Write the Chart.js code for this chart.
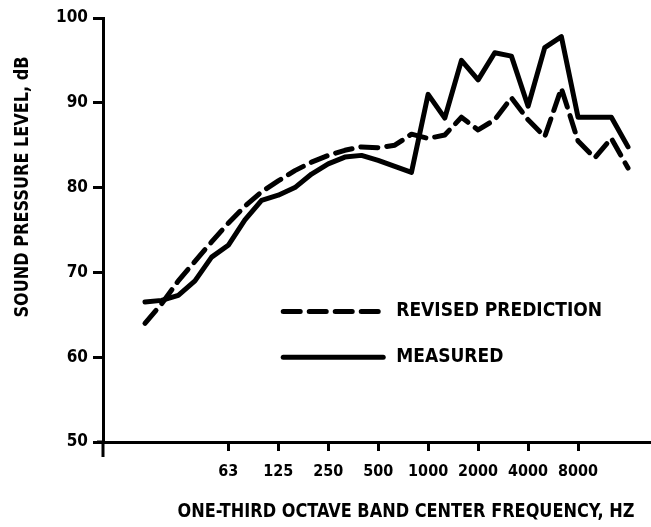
<!DOCTYPE html>
<html>
<head>
<meta charset="utf-8">
<script src="https://cdn.jsdelivr.net/npm/chart.js@4.4.1/dist/chart.umd.min.js"></script>
<style>
  html, body { margin: 0; padding: 0; background: #fff; }
</style>
</head>
<body>
<canvas id="splChart" width="651" height="527"></canvas>
<script>
// one-third octave band centre frequencies, Hz
const bands = ['20', '25', '31.5', '40', '50', '63', '80', '100', '125', '160', '200', '250', '315', '400', '500',
  '630', '800', '1000', '1250', '1600', '2000', '2500', '3150', '4000', '5000', '6300', '8000', '10000', '12500', '16000'];
// bands that get a tick and a label
const tickBands = ['63', '125', '250', '500', '1000', '2000', '4000', '8000'];

// sound pressure level, dB
const predicted = [64.0, 66.3, 69.0, 71.3, 73.6, 75.8, 77.8, 79.5, 80.8, 82.0, 83.0, 83.8, 84.4, 84.8, 84.7,
  85.0, 86.3, 85.8, 86.2, 88.3, 86.8, 88.0, 90.6, 88.0, 86.0, 91.7, 85.5, 83.5, 85.8, 82.3];
const measured = [66.5, 66.7, 67.3, 69.0, 71.8, 73.2, 76.2, 78.5, 79.1, 80.0, 81.6, 82.8, 83.6, 83.8, 83.2,
  82.5, 81.8, 91.0, 88.2, 95.0, 92.7, 95.9, 95.5, 89.6, 96.5, 97.8, 88.3, 88.3, 88.3, 84.8];

const seriesLabels = ['REVISED PREDICTION', 'MEASURED'];
const xTitle = 'ONE-THIRD OCTAVE BAND CENTER FREQUENCY, HZ';
const yTitle = 'SOUND PRESSURE LEVEL, dB';

const FONT = "'Liberation Sans Narrow', 'DejaVu Sans Condensed', 'Arial Narrow', sans-serif";
Chart.defaults.font.family = FONT;
Chart.defaults.font.weight = 'bold';
Chart.defaults.color = '#000';

const toPoints = arr => arr.map((v, i) => ({ x: i, y: v }));

// squeeze a label to a given width around its centre
function fitText(ctx, text, cx, cy, width, angle) {
  ctx.save();
  ctx.font = 'bold 20px ' + FONT;
  ctx.textAlign = 'center';
  ctx.textBaseline = 'middle';
  ctx.fillStyle = '#000';
  const sx = width / ctx.measureText(text).width;
  ctx.translate(cx, cy);
  ctx.rotate(angle);
  ctx.scale(sx, 1);
  ctx.fillText(text, 0, 0);
  ctx.restore();
}

// legend drawn inside the plot, anchored in data units; axis titles placed off-centre
const annotations = {
  id: 'annotations',
  afterDatasetsDraw(chart) {
    const { ctx, scales: { x, y } } = chart;
    const x0 = x.getPixelForValue(8.3);
    const rows = [65.4, 60.0];
    ctx.save();
    chart.data.datasets.forEach((ds, i) => {
      const yy = y.getPixelForValue(rows[i]);
      ctx.beginPath();
      ctx.strokeStyle = '#000';
      ctx.lineWidth = ds.borderWidth;
      ctx.lineCap = 'round';
      ctx.setLineDash(ds.borderDash || []);
      ctx.moveTo(x0, yy);
      ctx.lineTo(x0 + 100, yy);
      ctx.stroke();
      ctx.setLineDash([]);
      ctx.font = 'bold 19px ' + FONT;
      ctx.textBaseline = 'middle';
      ctx.fillStyle = '#000';
      ctx.fillText(ds.label, x0 + 113, yy);
    });
    ctx.restore();
  },
  afterDraw(chart) {
    const { ctx, chartArea: a } = chart;
    // short overhangs where the two axes meet
    ctx.save();
    ctx.strokeStyle = '#000';
    ctx.lineWidth = 3;
    ctx.beginPath();
    ctx.moveTo(a.left - 6, a.bottom);
    ctx.lineTo(a.left, a.bottom);
    ctx.moveTo(a.left, a.bottom);
    ctx.lineTo(a.left, a.bottom + 15);
    ctx.stroke();
    ctx.restore();

    fitText(ctx, xTitle, a.left + 303, chart.height - 15, 457, 0);
    fitText(ctx, yTitle, 23, a.top + 169, 261, -Math.PI / 2);
  }
};

new Chart(document.getElementById('splChart'), {
  type: 'line',
  data: {
    datasets: [
      {
        label: seriesLabels[0],
        data: toPoints(predicted),
        borderColor: '#000',
        borderWidth: 5,
        borderDash: [17, 9],
        borderCapStyle: 'round',
        borderJoinStyle: 'round',
        pointRadius: 0,
        tension: 0
      },
      {
        label: seriesLabels[1],
        data: toPoints(measured),
        borderColor: '#000',
        borderWidth: 5,
        borderCapStyle: 'round',
        borderJoinStyle: 'round',
        pointRadius: 0,
        tension: 0
      }
    ]
  },
  options: {
    responsive: false,
    animation: false,
    layout: { padding: { top: 18, right: 0, bottom: 0, left: 0 } },
    plugins: { legend: { display: false }, tooltip: { enabled: false } },
    scales: {
      x: {
        type: 'linear',
        min: -2.52,
        max: 30.38,
        afterBuildTicks: s => { s.ticks = tickBands.map(b => ({ value: bands.indexOf(b) })); },
        afterFit: s => { s.height = 85; },
        ticks: {
          autoSkip: false,
          maxRotation: 0,
          padding: 11,
          font: { size: 16, weight: 'bold' },
          callback: v => bands[v]
        },
        grid: { drawOnChartArea: false, tickLength: 9, tickWidth: 3, tickColor: '#000' },
        border: { color: '#000', width: 3 }
      },
      y: {
        min: 50,
        max: 100,
        afterFit: s => { s.width = 103; },
        ticks: { stepSize: 10, padding: 5, font: { size: 17, weight: 'bold' } },
        grid: { drawOnChartArea: false, tickLength: 10, tickWidth: 3, tickColor: '#000' },
        border: { color: '#000', width: 3 }
      }
    }
  },
  plugins: [annotations]
});
</script>
</body>
</html>
